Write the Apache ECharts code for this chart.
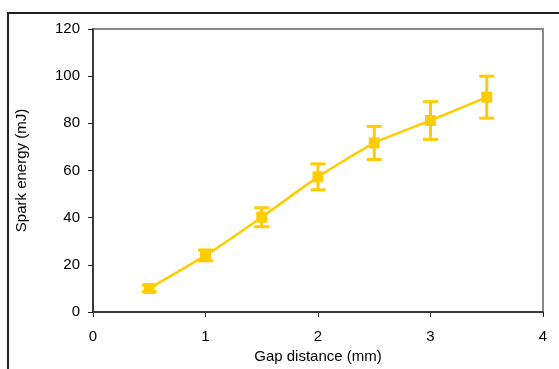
<!DOCTYPE html>
<html>
<head>
<meta charset="utf-8">
<script src="https://cdn.jsdelivr.net/npm/echarts@6/dist/echarts.min.js"></script>
<style>
  html, body { margin: 0; padding: 0; background: #fff; }
  #chart { width: 559px; height: 369px; }
  .frame {
    position: absolute;
    left: 7px;
    top: 12px;
    width: 700px;
    height: 500px;
    border: 2px solid #222;
    pointer-events: none;
  }
</style>
</head>
<body>
<div id="chart"></div>
<div class="frame"></div>
<script>
// gap distance (mm)
const gaps = [0.5, 1, 1.5, 2, 2.5, 3, 3.5]
// spark energy (mJ)
const energy = [10, 24, 40.2, 57.3, 71.7, 81.2, 91.1]
// error (+/-)
const errors = [1.4, 2.3, 4, 5.5, 7, 8, 8.9]

const gold = '#FFCC00'

const myChart = echarts.init(document.getElementById('chart'))

const errData = gaps.map((g, i) => [g, energy[i] - errors[i], energy[i] + errors[i]])

const font = { fontFamily: 'Liberation Sans', fontSize: 15, color: '#000' }

myChart.setOption({
  animation: false,
  grid: {
    left: 93,
    top: 29,
    right: 16,
    bottom: 53,
    show: true,
    borderColor: '#888',
    borderWidth: 2
  },
  xAxis: {
    type: 'value',
    min: 0,
    max: 4,
    interval: 1,
    name: 'Gap distance (mm)',
    nameLocation: 'middle',
    nameGap: 37,
    nameTextStyle: font,
    axisLine: { lineStyle: { color: '#222', width: 1.5 } },
    axisTick: { show: true, length: 5, lineStyle: { color: '#222' } },
    axisLabel: Object.assign({ margin: 17 }, font),
    splitLine: { show: false }
  },
  yAxis: {
    type: 'value',
    min: 0,
    max: 120,
    interval: 20,
    name: 'Spark energy (mJ)',
    nameLocation: 'middle',
    nameGap: 64,
    nameTextStyle: font,
    axisLine: { show: true, lineStyle: { color: '#222', width: 1.5 } },
    axisTick: { show: true, length: 5, lineStyle: { color: '#222' } },
    axisLabel: Object.assign({ margin: 13 }, font),
    splitLine: { show: false }
  },
  series: [
    {
      type: 'line',
      data: gaps.map((g, i) => [g, energy[i]]),
      smooth: 0.15,
      symbol: 'rect',
      symbolSize: 11,
      itemStyle: { color: gold },
      lineStyle: { color: gold, width: 2.5 },
      z: 3
    },
    {
      type: 'custom',
      data: errData,
      z: 2,
      renderItem (params, api) {
        const x = api.value(0)
        const lo = api.coord([x, api.value(1)])
        const hi = api.coord([x, api.value(2)])
        const half = 7.5
        const style = { stroke: gold, lineWidth: 3 }
        return {
          type: 'group',
          children: [
            { type: 'line', shape: { x1: lo[0], y1: lo[1], x2: hi[0], y2: hi[1] }, style },
            { type: 'line', shape: { x1: lo[0] - half, y1: lo[1], x2: lo[0] + half, y2: lo[1] }, style },
            { type: 'line', shape: { x1: hi[0] - half, y1: hi[1], x2: hi[0] + half, y2: hi[1] }, style }
          ]
        }
      }
    }
  ]
})
</script>
</body>
</html>
